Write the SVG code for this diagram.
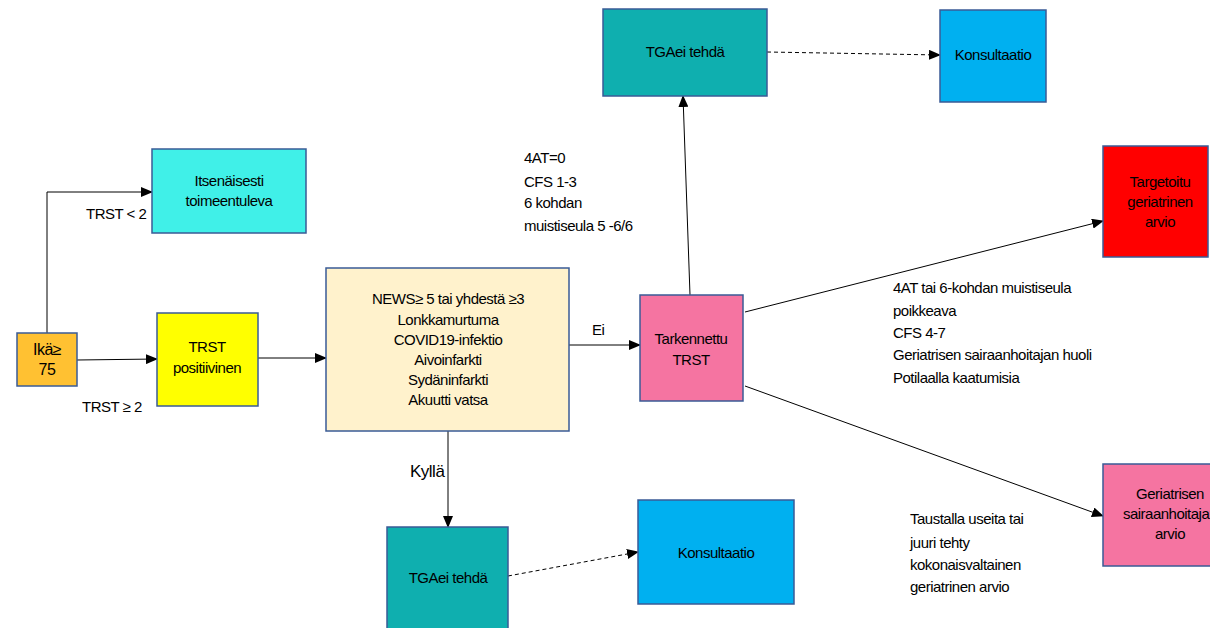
<svg xmlns="http://www.w3.org/2000/svg" width="1210" height="628" viewBox="0 0 1210 628">
<style>
.box{stroke:#3A5B96;stroke-width:1.5}
text{font-family:"Liberation Sans",Arial,sans-serif;font-size:15px;letter-spacing:-0.5px;fill:#000}
.c{text-anchor:middle}
.ln{stroke:#000;stroke-width:1;fill:none}
.dash{stroke-dasharray:4,3}
</style>
<defs>
<marker id="ah" markerWidth="12" markerHeight="10" refX="11" refY="5" orient="auto" markerUnits="userSpaceOnUse">
<path d="M0,0 L12,5 L0,10 Z" fill="#000"/>
</marker>
</defs>
<rect width="1210" height="628" fill="#fff"/>

<g id="connectors">
<path class="ln" d="M47,333 V192 H152" marker-end="url(#ah)"/>
<path class="ln" d="M77,360 L157,359" marker-end="url(#ah)"/>
<path class="ln" d="M258,358 L326,358" marker-end="url(#ah)"/>
<path class="ln" d="M569,345 L640,345" marker-end="url(#ah)"/>
<path class="ln" d="M448,431 L448,527" marker-end="url(#ah)"/>
<path class="ln" d="M690,295 L683,96" marker-end="url(#ah)"/>
<path class="ln" d="M745,312 L1103,221" marker-end="url(#ah)"/>
<path class="ln" d="M745,386 L1103,516" marker-end="url(#ah)"/>
<path class="ln dash" d="M767,52 L940,55" marker-end="url(#ah)"/>
<path class="ln dash" d="M508,576 L638,552" marker-end="url(#ah)"/>
</g>

<g id="labels">
<text x="86" y="219">TRST &lt; 2</text>
<text x="82" y="412">TRST ≥ 2</text>
<text x="592" y="335">Ei</text>
<text x="410" y="477" style="font-size:17px">Kyllä</text>
<text x="524" y="163">4AT=0</text>
<text x="524" y="187">CFS 1-3</text>
<text x="524" y="208">6 kohdan</text>
<text x="524" y="231">muistiseula 5 -6/6</text>
<text x="893" y="293">4AT tai 6-kohdan muistiseula</text>
<text x="893" y="316">poikkeava</text>
<text x="893" y="338">CFS 4-7</text>
<text x="893" y="360">Geriatrisen sairaanhoitajan huoli</text>
<text x="893" y="383">Potilaalla kaatumisia</text>
<text x="910" y="524">Taustalla useita tai</text>
<text x="910" y="548">juuri tehty</text>
<text x="910" y="570">kokonaisvaltainen</text>
<text x="910" y="592">geriatrinen arvio</text>
</g>

<g id="n-ika">
<rect class="box" x="17" y="333" width="60" height="53" fill="#FFC132"/>
<text class="c" x="47" y="355" style="font-size:16px">Ikä≥</text>
<text class="c" x="47" y="375" style="font-size:16px">75</text>
</g>

<g id="n-itsenainen">
<rect class="box" x="152" y="149" width="154" height="84" fill="#40F0E8"/>
<text class="c" x="229" y="186">Itsenäisesti</text>
<text class="c" x="229" y="206">toimeentuleva</text>
</g>

<g id="n-trst-pos">
<rect class="box" x="157" y="313" width="101" height="93" fill="#FFFF00"/>
<text class="c" x="207" y="352">TRST</text>
<text class="c" x="207" y="373">positiivinen</text>
</g>

<g id="n-news">
<rect class="box" x="326" y="268" width="243" height="163" fill="#FFF2CC"/>
<text class="c" x="448" y="304">NEWS≥ 5 tai yhdestä ≥3</text>
<text class="c" x="448" y="325">Lonkkamurtuma</text>
<text class="c" x="448" y="345">COVID19-infektio</text>
<text class="c" x="448" y="365">Aivoinfarkti</text>
<text class="c" x="448" y="385">Sydäninfarkti</text>
<text class="c" x="448" y="405">Akuutti vatsa</text>
</g>

<g id="n-tarkennettu">
<rect class="box" x="640" y="295" width="103" height="106" fill="#F574A1"/>
<text class="c" x="691" y="344">Tarkennettu</text>
<text class="c" x="691" y="365">TRST</text>
</g>

<g id="n-tga-top">
<rect class="box" x="603" y="9" width="164" height="87" fill="#0FAFAF"/>
<text class="c" x="685" y="57">TGAei tehdä</text>
</g>

<g id="n-kons-top">
<rect class="box" x="940" y="10" width="106" height="92" fill="#00B0F0"/>
<text class="c" x="993" y="60">Konsultaatio</text>
</g>

<g id="n-targetoitu">
<rect class="box" x="1103" y="146" width="105" height="111" fill="#FF0000"/>
<text class="c" x="1160" y="187">Targetoitu</text>
<text class="c" x="1160" y="207">geriatrinen</text>
<text class="c" x="1160" y="227">arvio</text>
</g>

<g id="n-gerhoit">
<rect class="box" x="1103" y="464" width="135" height="102" fill="#F574A1"/>
<text class="c" x="1170" y="499">Geriatrisen</text>
<text class="c" x="1170" y="519">sairaanhoitajan</text>
<text class="c" x="1170" y="539">arvio</text>
</g>

<g id="n-tga-bottom">
<rect class="box" x="387" y="527" width="121" height="105" fill="#0FAFAF"/>
<text class="c" x="448" y="583">TGAei tehdä</text>
</g>

<g id="n-kons-bottom">
<rect class="box" x="638" y="500" width="156" height="104" fill="#00B0F0"/>
<text class="c" x="716" y="558">Konsultaatio</text>
</g>
</svg>
